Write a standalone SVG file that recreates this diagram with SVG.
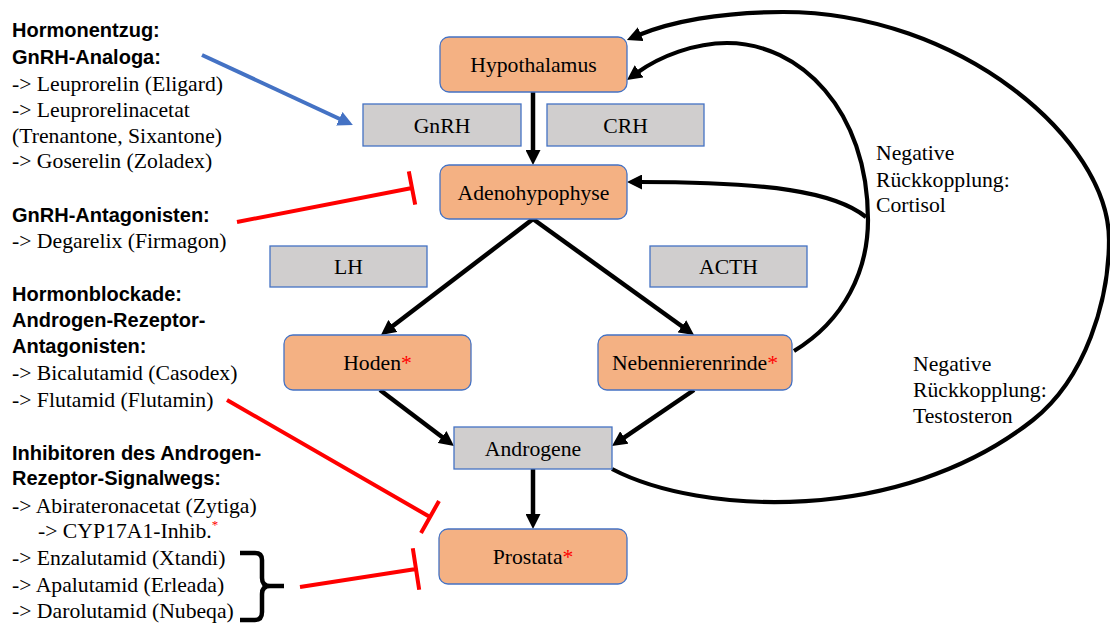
<svg xmlns="http://www.w3.org/2000/svg" width="1110" height="626" viewBox="0 0 1110 626">
  <style>
    .organ { fill: #F4B183; stroke: #4472C4; stroke-width: 1.3; }
    .hormone { fill: #D0CECE; stroke: #4472C4; stroke-width: 1.3; }
    .lbl { font-family: "Liberation Serif", "Times New Roman", serif; font-size: 21.7px; fill: #000; }
    .mid { text-anchor: middle; }
    .head { font-family: "Liberation Sans", Arial, sans-serif; font-weight: bold; font-size: 20px; fill: #000; }
    .star { fill: #FF0000; }
    .flow { fill: none; stroke: #000; stroke-width: 4.5; marker-end: url(#arrowBlack); }
    .loop { fill: none; stroke: #000; stroke-width: 4.2; }
    .block { fill: none; stroke: #FF0000; stroke-width: 4; }
  </style>
  <defs>
    <marker id="arrowBlack" markerUnits="userSpaceOnUse" markerWidth="16" markerHeight="15" refX="3" refY="7.5" orient="auto">
      <path d="M0,0 L15,7.5 L0,15 z" fill="#000"/>
    </marker>
    <marker id="arrowBlue" markerUnits="userSpaceOnUse" markerWidth="16" markerHeight="15" refX="3" refY="7.5" orient="auto">
      <path d="M0,0 L15,7.5 L0,15 z" fill="#4472C4"/>
    </marker>
  </defs>

  <rect width="1110" height="626" fill="#FFFFFF"/>

  <!-- connectors -->
  <g id="connectors">
    <!-- cascade arrows -->
    <line class="flow" x1="533" y1="92" x2="533" y2="153"/>
    <line class="flow" x1="533" y1="219" x2="390.5" y2="327.7"/>
    <line class="flow" x1="533" y1="219" x2="684.3" y2="328"/>
    <line class="flow" x1="380" y1="390" x2="444.4" y2="438.8"/>
    <line class="flow" x1="694" y1="390" x2="621.9" y2="439.2"/>
    <line class="flow" x1="533" y1="469" x2="533" y2="517"/>

    <!-- feedback: testosterone loop -->
    <path class="loop" marker-end="url(#arrowBlack)" d="M612,469 C700,515 900,525 1033,420 C1086,378 1109,300 1109,240 C1109,140 960,12 783,12 C720,12 670,22 638,35.3"/>
    <!-- feedback: cortisol loop -->
    <path class="loop" marker-end="url(#arrowBlack)" d="M794,351 C845,320 868,270 868,220 C868,110 800,43 727,43 C695,43 660,56 636.7,73"/>
    <path class="loop" marker-end="url(#arrowBlack)" d="M866,217 C835,192 770,182 639,182"/>

    <!-- GnRH analogue stimulation -->
    <line x1="202" y1="55" x2="342" y2="120" stroke="#4472C4" stroke-width="4" marker-end="url(#arrowBlue)"/>

    <!-- inhibition lines -->
    <path class="block" d="M237,222 L412,188 M408.8,171.3 L415.2,204.7"/>
    <path class="block" d="M227,400 L430,517 M421,533 L439,501"/>
    <path class="block" d="M300,587 L416,569 M412.8,548.2 L419.2,589.8"/>

    <!-- brace grouping the receptor antagonists -->
    <path d="M240,553 L255,553 Q262,553 262,560 L262,578 Q262,586 270,586 L284,586 M270,586 Q262,586 262,594 L262,612 Q262,620 255,620 L240,620" fill="none" stroke="#000" stroke-width="4.5"/>
  </g>

  <!-- organ nodes -->
  <g id="hypothalamus">
    <rect class="organ" x="440" y="37" width="187" height="55" rx="9"/>
    <text class="lbl mid" x="533.5" y="72">Hypothalamus</text>
  </g>
  <g id="adenohypophyse">
    <rect class="organ" x="440" y="165" width="187" height="54" rx="9"/>
    <text class="lbl mid" x="533.5" y="199.5">Adenohypophyse</text>
  </g>
  <g id="hoden">
    <rect class="organ" x="284" y="335" width="187" height="55" rx="9"/>
    <text class="lbl mid" x="377.5" y="370">Hoden<tspan class="star">*</tspan></text>
  </g>
  <g id="nebennierenrinde">
    <rect class="organ" x="598" y="335" width="194" height="55" rx="9"/>
    <text class="lbl mid" x="695" y="370">Nebennierenrinde<tspan class="star">*</tspan></text>
  </g>
  <g id="prostata">
    <rect class="organ" x="439" y="529" width="188" height="55" rx="9"/>
    <text class="lbl mid" x="533" y="564">Prostata<tspan class="star">*</tspan></text>
  </g>

  <!-- hormone nodes -->
  <g id="gnrh">
    <rect class="hormone" x="363" y="104" width="158" height="42"/>
    <text class="lbl mid" x="442" y="132.5">GnRH</text>
  </g>
  <g id="crh">
    <rect class="hormone" x="547" y="104" width="157" height="42"/>
    <text class="lbl mid" x="625.5" y="132.5">CRH</text>
  </g>
  <g id="lh">
    <rect class="hormone" x="270" y="246" width="157" height="41"/>
    <text class="lbl mid" x="348.5" y="274">LH</text>
  </g>
  <g id="acth">
    <rect class="hormone" x="650" y="246" width="157" height="41"/>
    <text class="lbl mid" x="728.5" y="274">ACTH</text>
  </g>
  <g id="androgene">
    <rect class="hormone" x="454" y="427" width="158" height="42"/>
    <text class="lbl mid" x="533" y="456">Androgene</text>
  </g>

  <!-- feedback labels -->
  <g id="label-cortisol">
    <text class="lbl" x="876" y="160">Negative</text>
    <text class="lbl" x="876" y="187">Rückkopplung:</text>
    <text class="lbl" x="876" y="212">Cortisol</text>
  </g>
  <g id="label-testosteron">
    <text class="lbl" x="913" y="371">Negative</text>
    <text class="lbl" x="913" y="397">Rückkopplung:</text>
    <text class="lbl" x="913" y="423">Testosteron</text>
  </g>

  <!-- drug classes -->
  <g id="gnrh-analoga">
    <text class="head" x="12" y="37">Hormonentzug:</text>
    <text class="head" x="12" y="64">GnRH-Analoga:</text>
    <text class="lbl" x="12" y="91">-&gt; Leuprorelin (Eligard)</text>
    <text class="lbl" x="12" y="117">-&gt; Leuprorelinacetat</text>
    <text class="lbl" x="12" y="143">(Trenantone, Sixantone)</text>
    <text class="lbl" x="12" y="168">-&gt; Goserelin (Zoladex)</text>
  </g>
  <g id="gnrh-antagonisten">
    <text class="head" x="12" y="222">GnRH-Antagonisten:</text>
    <text class="lbl" x="12" y="248">-&gt; Degarelix (Firmagon)</text>
  </g>
  <g id="ar-antagonisten">
    <text class="head" x="12" y="301">Hormonblockade:</text>
    <text class="head" x="12" y="327">Androgen-Rezeptor-</text>
    <text class="head" x="12" y="353">Antagonisten:</text>
    <text class="lbl" x="12" y="380">-&gt; Bicalutamid (Casodex)</text>
    <text class="lbl" x="12" y="407">-&gt; Flutamid (Flutamin)</text>
  </g>
  <g id="ar-signalweg">
    <text class="head" x="12" y="460">Inhibitoren des Androgen-</text>
    <text class="head" x="12" y="485">Rezeptor-Signalwegs:</text>
    <text class="lbl" x="12" y="513">-&gt; Abirateronacetat (Zytiga)</text>
    <text class="lbl" x="38" y="538">-&gt; CYP17A1-Inhib.<tspan class="star" font-size="13" dy="-9">*</tspan></text>
    <text class="lbl" x="12" y="565">-&gt; Enzalutamid (Xtandi)</text>
    <text class="lbl" x="12" y="592">-&gt; Apalutamid (Erleada)</text>
    <text class="lbl" x="12" y="618">-&gt; Darolutamid (Nubeqa)</text>
  </g>
</svg>
